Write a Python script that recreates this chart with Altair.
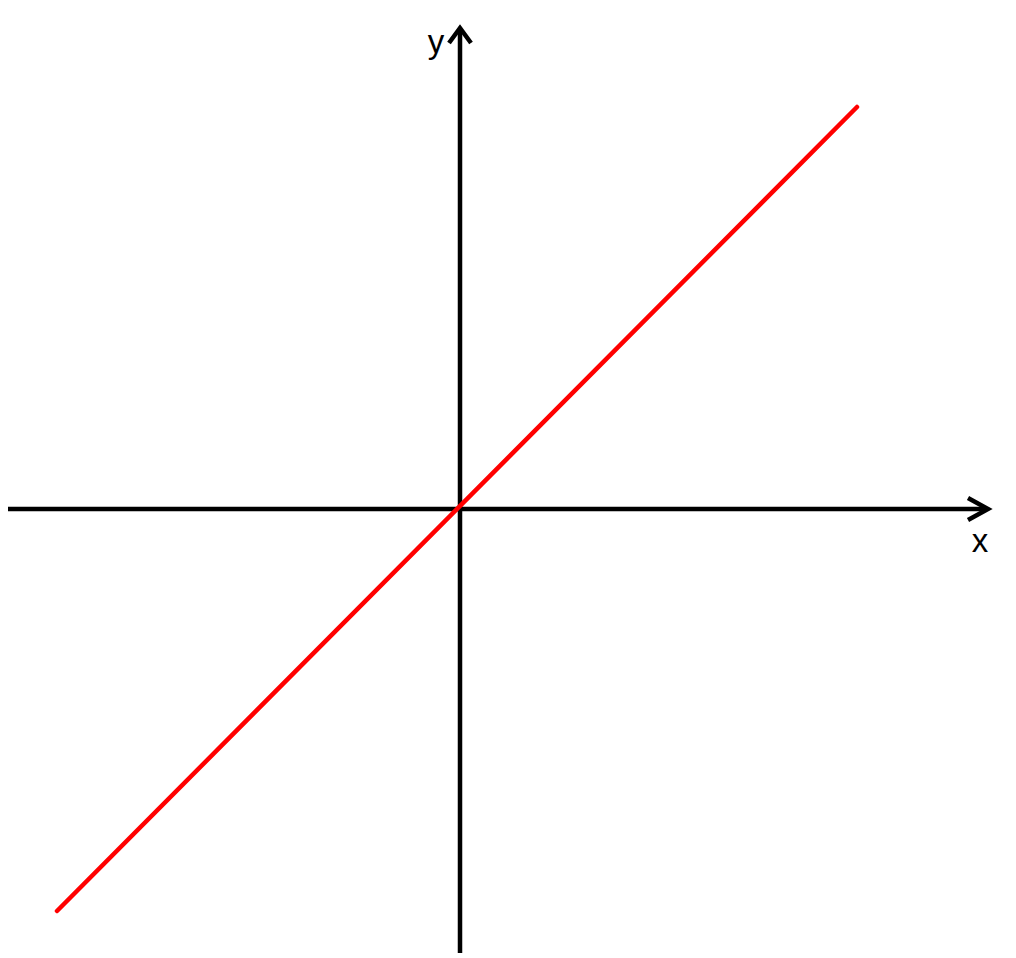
import altair as alt
import pandas as pd

# Red line y = x (data units ~ pixels, origin at the axes crossing)
line_x = [-403, 397]
line_y = [-402, 402]

# Axis shafts
xaxis_x = [-452, 526]
xaxis_y = [0, 0]
yaxis_x = [0, 0]
yaxis_y = [-444, 479]

# Arrow heads (chevrons): arm, tip, arm
xarrow_x = [508, 528, 508]
xarrow_y = [11, 0, -11]
yarrow_x = [-11, 0, 11]
yarrow_y = [466, 481, 466]

# Axis labels
label_text = ["x", "y"]
label_x = [520, -24]
label_y = [-43, 456]

X_DOMAIN = [-452, 548]
Y_DOMAIN = [-444, 501]

xs = alt.Scale(domain=X_DOMAIN, nice=False, zero=False)
ys = alt.Scale(domain=Y_DOMAIN, nice=False, zero=False)

def seg_frame(name, xv, yv):
    return pd.DataFrame({"seg": name, "x": xv, "y": yv, "o": list(range(len(xv)))})

axes_df = pd.concat([
    seg_frame("xaxis", xaxis_x, xaxis_y),
    seg_frame("yaxis", yaxis_x, yaxis_y),
    seg_frame("xarrow", xarrow_x, xarrow_y),
    seg_frame("yarrow", yarrow_x, yarrow_y),
])

red_df = pd.DataFrame({"x": line_x, "y": line_y})
lab_df = pd.DataFrame({"t": label_text, "x": label_x, "y": label_y})

axes = alt.Chart(axes_df).mark_line(
    color="black", strokeWidth=4.5, strokeJoin="miter", strokeCap="butt"
).encode(
    x=alt.X("x:Q", scale=xs, axis=None),
    y=alt.Y("y:Q", scale=ys, axis=None),
    detail="seg:N",
    order="o:Q",
)

red = alt.Chart(red_df).mark_line(
    color="#ff0000", strokeWidth=4.5, strokeCap="round"
).encode(
    x=alt.X("x:Q", scale=xs, axis=None),
    y=alt.Y("y:Q", scale=ys, axis=None),
)

labels = alt.Chart(lab_df).mark_text(
    font="Liberation Sans", fontSize=33, color="black",
    align="center", baseline="alphabetic"
).encode(
    x=alt.X("x:Q", scale=xs, axis=None),
    y=alt.Y("y:Q", scale=ys, axis=None),
    text="t:N",
)

chart = alt.layer(axes, red, labels).properties(
    width=1000, height=945, padding=0, autosize=alt.AutoSizeParams(type="none")
).configure_view(stroke=None)

chart.save("out.html", embed_options={"renderer": "svg", "actions": False})
